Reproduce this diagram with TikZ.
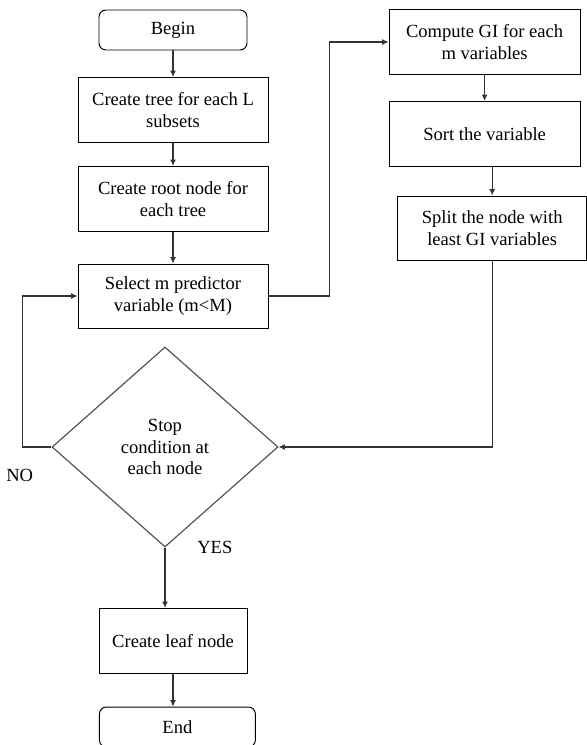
\documentclass[tikz,border=0pt]{standalone}
\usepackage{fontspec}
\setmainfont{Liberation Serif}
\usepackage{tikz}
\usetikzlibrary{arrows.meta,shapes.geometric,positioning}

\tikzset{
  box/.style={draw,line width=0.7pt,align=center,minimum width=4.75cm,minimum height=1.63cm,inner sep=2pt},
  term/.style={draw,line width=0.7pt,rounded corners=5pt,align=center,minimum height=1cm},
  decide/.style={draw=black!70,line width=0.8pt,diamond,align=center,minimum width=5.65cm,minimum height=5cm,inner sep=0pt},
  flow/.style={draw=black!80,line width=0.8pt,-{Latex[length=1.6mm,width=1.5mm]}}
}

\begin{document}
\begin{tikzpicture}[font=\fontsize{13.2}{15.6}\selectfont]
\useasboundingbox (-4.325,0.75) rectangle (10.325,-17.875);

\node[term,minimum width=3.7cm] (begin) {Begin};
\node[box] (tree) [below of=begin,node distance=2cm] {Create tree for each L\\subsets};
\node[box] (root) [below of=tree,node distance=2.225cm] {Create root node for\\each tree};
\node[box,minimum height=1.6cm] (select) [below of=root,node distance=2.425cm] {Select m predictor\\variable (m<M)};
\node[decide] (stop) [below of=select,node distance=3.775cm,xshift=-0.2cm] {Stop\\condition at\\each node};
\node[box,minimum width=3.7cm] (leaf) [below of=stop,node distance=4.85cm,xshift=0.2cm] {Create leaf node};
\node[term,minimum width=3.9cm] (end) [below of=leaf,node distance=2.15cm,xshift=0.11cm] {End};

\node[box,minimum width=4.78cm] (compute) at (7.79,-0.3) {Compute GI for each\\m variables};
\node[box,minimum width=4.78cm] (sort) [below of=compute,node distance=2.3cm] {Sort the variable};
\node[box,minimum width=4.73cm,minimum height=1.6cm] (split) [below of=sort,node distance=2.35cm,xshift=0.19cm] {Split the node with\\least GI variables};

\node[inner sep=0pt] (no) [below left=0.55cm and 0.45cm of stop.west] {NO};
\node[inner sep=0pt] (yes) [right=0.8cm of stop.south] {YES};

\draw[flow] (begin) -- (tree);
\draw[flow] (tree) -- (root);
\draw[flow] (root) -- (select);
\draw[flow] (select.east) -- ++(1.525,0) |- (compute.west);
\draw[flow] (compute) -- (sort);
\draw[flow] (sort.south -| split) -- (split);
\draw[flow] (split.south) |- (stop.east);
\draw[flow] (stop.west) -- ++(-0.725,0) |- (select.west);
\draw[flow] (stop.south) -- (stop.south |- leaf.north);
\draw[flow] (leaf.south) -- (leaf.south |- end.north);
\end{tikzpicture}
\end{document}
